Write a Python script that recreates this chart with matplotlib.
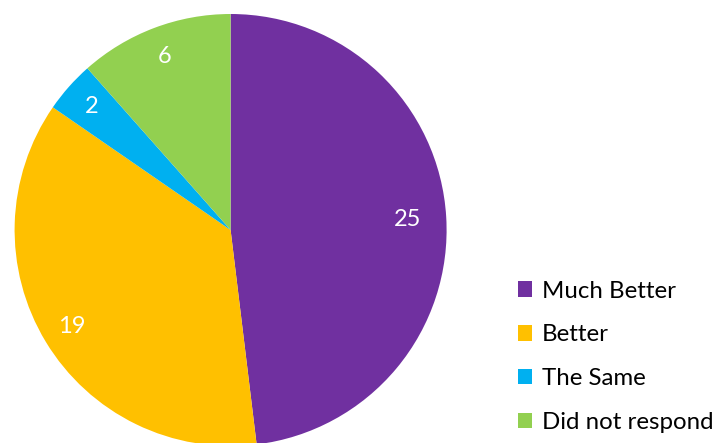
import matplotlib
matplotlib.use("Agg")
import numpy as np
import matplotlib.pyplot as plt
from matplotlib.patches import Patch

categories = ["Much Better", "Better", "The Same", "Did not respond"]
values = [25, 19, 2, 6]
colors = ["#7030A0", "#FFC000", "#00B0F0", "#92D050"]
label_radius = [0.82, 0.86, 0.86, 0.86]

plt.rcParams["font.family"] = ["Lato", "DejaVu Sans"]

W, H = 719, 443
fig = plt.figure(figsize=(W / 100, H / 100), dpi=100)

# pie axes: centre (230.6, 230) px from top, radius 216 px
cx, cy, r = 230.6, 230.0, 216.0
ax = fig.add_axes([(cx - r) / W, (H - cy - r) / H, 2 * r / W, 2 * r / H])
total = sum(values)
wedges, _, autotexts = ax.pie(
    values,
    colors=colors,
    startangle=90,
    counterclock=False,
    radius=1.0,
    autopct=lambda p: f"{round(p * total / 100)}",
    pctdistance=0.86,
    textprops=dict(color="white", fontsize=17),
    wedgeprops=dict(linewidth=0),
)
# move each value label along its wedge's bisector
for w, t, d in zip(wedges, autotexts, label_radius):
    ang = np.deg2rad((w.theta1 + w.theta2) / 2)
    t.set_position((d * np.cos(ang), d * np.sin(ang)))

ax.set_xlim(-1, 1)
ax.set_ylim(-1, 1)
ax.set_aspect("equal")
ax.axis("off")

handles = [Patch(facecolor=c, edgecolor="none") for c in colors]
fig.legend(
    handles,
    categories,
    loc="lower left",
    bbox_to_anchor=(518 / W, 10 / H),
    frameon=False,
    fontsize=17.3,
    handlelength=0.6,
    handleheight=0.6,
    handletextpad=0.4,
    labelspacing=0.95,
    borderaxespad=0,
    borderpad=0,
)

fig.savefig("out.png", dpi=100)
